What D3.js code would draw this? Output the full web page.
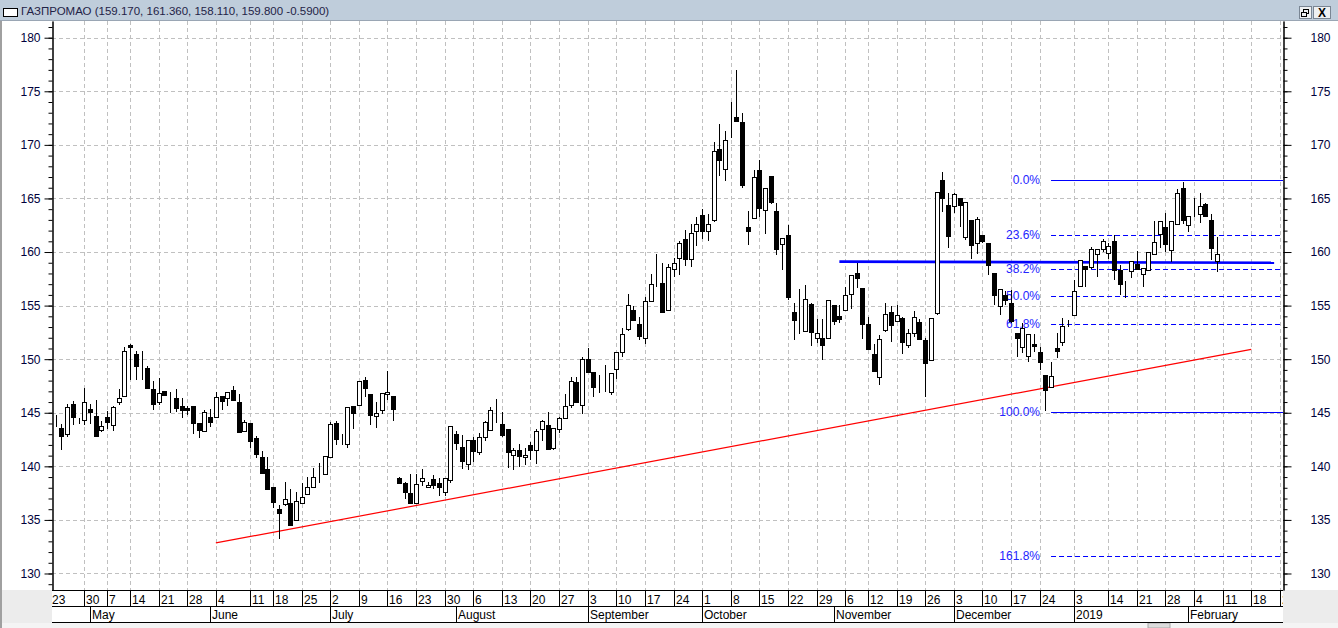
<!DOCTYPE html>
<html>
<head>
<meta charset="utf-8">
<script src="https://cdn.jsdelivr.net/npm/d3@7"></script>
<style>
body{margin:0;background:#ececec;overflow:hidden}
text{font-family:"Liberation Sans",Arial,sans-serif}
</style>
</head>
<body>
<div id="chart"></div>
<script>
var ticker = "ГАЗПРОМАО";
var calendarStart = "2018-04-23", calendarEnd = "2019-02-25", seriesStart = "2018-04-24";
var holidays = ["2018-05-01","2018-05-09","2018-06-12","2018-11-05","2018-12-31","2019-01-01","2019-01-02","2019-01-07"];
var workSaturdays = ["2018-04-28","2018-06-09","2018-12-29"];

var opens = [144.1,143.57,143.0,145.8,144.5,144.32,145.37,144.72,143.39,144.6,143.85,146.0,146.55,151.34,150.5,148.7,149.16,147.2,146.0,147.02,
146.18,146.37,145.62,145.43,145.62,144.04,143.3,144.6,144.57,146.58,146.37,147.11,146.02,143.3,144.04,142.64,140.83,139.72,138.06,136.05,
136.48,136.57,135.0,136.54,137.41,138.06,138.95,139.32,140.83,144.07,142.38,142.13,145.65,145.74,148.06,146.79,144.72,145.28,146.76,146.6,
138.92,138.43,137.5,136.57,138.67,138.06,138.8,138.43,137.59,138.7,142.99,141.8,140.19,142.42,141.3,142.7,143.35,144.72,143.91,143.45,
141.02,141.49,140.84,141.96,141.55,143.51,143.82,141.68,143.51,144.53,145.75,147.86,145.68,150.0,148.85,147.17,147.17,146.96,149.04,150.71,
152.86,154.63,153.32,152.02,155.47,157.52,157.15,154.63,158.45,159.47,161.24,159.35,161.99,163.48,161.99,162.98,169.66,167.76,171.99,172.61,
172.14,162.36,163.2,167.61,163.91,167.11,163.85,160.71,161.55,154.44,154.88,152.64,155.19,152.02,152.02,152.02,155.09,154.07,154.63,156.12,
158.04,156.61,153.32,150.47,148.32,152.76,154.41,153.54,153.82,151.3,152.42,153.48,151.8,149.94,154.29,166.71,164.38,164.32,165.0,161.37,
162.98,160.87,161.55,160.81,158.07,155.0,155.99,155.22,152.42,151.12,150.28,151.4,150.65,148.48,147.45,151.02,151.65,153.7,154.16,156.8,
158.66,158.63,159.78,160.25,159.88,160.99,158.35,157.3,158.26,158.91,157.92,158.32,159.81,161.65,162.36,160.19,162.58,166.02,162.48,163.42,
163.51,164.44,162.95,159.17];
var highs = [144.8,143.94,145.84,146.06,144.55,147.3,145.84,146.2,144.22,145.19,145.6,147.2,151.18,151.4,150.8,150.8,149.38,147.98,148.23,147.05,
146.93,147.24,146.37,145.6,145.62,144.04,145.28,145.34,146.96,146.6,146.93,147.52,146.77,144.29,144.04,142.86,141.45,140.83,138.06,136.36,
138.55,137.87,137.59,138.43,138.98,139.88,140.28,140.99,144.17,144.2,143.0,145.56,145.65,147.96,148.36,146.79,145.96,146.85,148.89,146.6,
139.04,138.58,139.29,139.29,139.78,138.55,139.23,138.92,138.92,143.8,143.3,142.89,142.42,142.76,143.14,144.22,145.5,146.24,145.09,143.45,
141.74,142.08,141.68,142.3,143.48,144.29,145.03,143.6,144.6,146.71,148.35,148.35,150.22,151.06,148.85,148.51,149.5,148.73,150.71,152.95,
156.06,155.0,153.94,155.81,157.95,159.78,158.95,158.91,159.47,160.99,162.02,162.64,163.26,163.98,163.51,170.25,171.99,171.34,174.04,177.02,
172.98,163.85,167.61,168.6,165.99,167.11,164.6,161.34,162.55,155.22,156.58,156.89,155.28,153.73,153.73,155.5,155.09,155.03,156.71,157.89,
158.98,156.61,153.91,151.46,152.27,155.25,155.0,155.06,153.98,152.83,154.53,153.79,151.96,153.82,165.62,167.48,165.47,165.5,165.0,164.63,
162.98,163.23,161.55,160.81,158.07,156.52,156.37,156.46,152.42,153.35,152.33,152.33,151.18,148.48,149.78,152.42,153.82,153.7,157.39,159.22,
158.66,160.43,160.25,161.18,160.81,161.55,158.79,157.3,159.19,160.09,158.54,159.97,162.89,162.86,163.6,162.92,165.84,166.49,163.4,165.03,
165.47,164.6,163.51,161.36];
var lows = [143.7,141.5,142.73,143.82,143.94,143.82,143.97,142.75,143.17,143.5,143.26,145.68,146.5,148.07,148.07,148.07,147.2,145.28,145.68,146.52,
144.97,145.03,144.5,144.8,143.0,142.6,143.3,143.63,144.57,145.28,145.59,146.06,143.17,143.3,141.68,140.75,139.26,137.84,136.11,133.18,
136.27,134.4,135.0,136.54,137.41,138.06,138.43,139.32,140.83,141.98,141.95,141.73,143.52,145.74,146.45,143.89,143.58,144.9,146.2,144.23,
138.43,136.94,136.51,136.57,138.12,138.06,137.87,137.19,137.19,138.49,141.5,139.78,139.66,140.4,141.06,142.33,143.35,144.04,142.76,139.88,
139.66,139.97,140.09,140.59,140.19,142.39,141.58,141.52,143.14,144.53,145.47,146.02,144.84,148.82,146.49,146.89,146.95,146.65,148.17,150.22,
152.64,153.63,151.77,151.43,155.47,156.74,154.42,154.63,157.64,157.89,158.7,158.6,160.56,161.24,160.99,162.76,167.14,166.61,170.62,172.1,
165.99,160.62,163.2,163.26,161.68,164.5,159.69,158.29,155.56,151.83,152.39,152.55,151.24,151.55,149.91,152.02,153.17,153.42,154.57,154.72,
156.68,151.89,150.96,148.85,147.61,152.58,151.65,153.54,150.47,151.09,152.11,151.93,146.43,149.94,154.1,163.76,160.34,163.6,162.33,161.12,
159.32,159.78,160.87,157.86,155.06,154.13,155.06,153.35,150.16,150.62,149.78,150.71,149.0,145.12,147.45,150.09,151.24,152.98,154.16,156.8,
156.71,158.45,157.7,160.0,159.32,157.42,155.96,155.68,157.55,158.42,156.71,158.32,159.81,160.34,160.03,159.1,162.58,162.58,161.89,163.3,
162.67,163.23,159.25,158.11];
var closes = [144.1,142.8,145.53,144.57,144.5,146.02,145.03,142.8,143.76,144.1,145.53,146.37,150.75,151.12,149.32,148.7,147.27,145.8,146.83,146.65,
146.18,145.4,145.25,145.25,144.0,143.35,145.06,144.1,146.46,146.06,146.93,146.15,143.17,144.13,142.33,141.15,139.41,137.84,136.64,135.62,
136.94,134.5,136.76,137.13,138.06,138.98,138.95,140.99,143.98,142.53,142.38,145.56,145.0,147.96,147.31,144.78,145.0,146.85,146.98,145.34,
138.43,137.65,136.57,138.33,138.92,138.24,138.24,138.06,138.92,143.8,142.2,140.47,142.42,141.4,142.7,144.1,145.22,144.72,142.95,141.3,
141.49,140.93,141.02,141.55,143.26,144.19,141.58,143.6,144.47,145.59,147.92,146.02,150.0,148.82,147.42,147.17,147.17,148.73,150.71,152.36,
155.09,153.63,152.17,155.47,157.05,157.52,154.42,158.6,159.01,160.87,159.35,161.8,162.64,161.99,162.64,169.47,168.6,170.47,171.99,172.24,
166.24,161.96,167.02,164.1,165.99,164.66,160.31,161.34,155.81,153.66,154.88,155.65,152.55,152.48,151.37,155.5,153.6,153.76,156.02,157.89,
157.58,153.32,150.99,148.94,151.86,154.19,153.23,154.1,151.65,152.42,153.91,151.93,149.6,153.82,165.62,165.06,161.46,165.43,164.35,164.63,
160.65,163.04,161.06,158.79,155.99,156.52,155.53,153.6,152.02,152.95,152.33,151.21,149.78,147.08,148.45,150.81,153.11,153.7,156.34,159.22,
158.39,160.25,160.25,160.99,160.53,158.35,156.99,157.3,159.19,158.42,158.54,159.97,160.9,162.86,160.75,162.92,165.47,162.95,163.32,163.42,
164.25,163.32,160.39,159.8];

var yTicks = [130,135,140,145,150,155,160,165,170,175,180];
var monthLabels = ["May","June","July","August","September","October","November","December","2019","February"];
var trendLine = [["2018-06-04",132.85],["2019-02-18",150.92]];
var levelLine = [["2018-11-02",159.1],["2019-02-22",159.0]];
var fibStart = "2018-12-26", fibHigh = 166.7, fibLow = 145.05;
var fibLevels = [0,23.6,38.2,50,61.8,100,161.8];

var W = 1338, H = 628;
var plot = {left: 52, right: 1283, top: 21, bottom: 590};

var parse = d3.utcParse("%Y-%m-%d"), fmt = d3.utcFormat("%Y-%m-%d");
var days = d3.utcDay.range(parse(calendarStart), d3.utcDay.offset(parse(calendarEnd), 1)).filter(function(d){
    var s = fmt(d), wd = d.getUTCDay();
    if (workSaturdays.indexOf(s) >= 0) return true;
    return wd > 0 && wd < 6 && holidays.indexOf(s) < 0;
});
var dayIndex = {};
days.forEach(function(d,i){ dayIndex[fmt(d)] = i; });

var x = d3.scaleLinear().domain([0.35, 215.55]).range([plot.left, plot.right]);
var y = d3.scaleLinear().domain([128.46, 181.56]).range([plot.bottom, plot.top]);
var px = function(i){ return Math.round(x(i)) + 0.5; };

var candles = opens.map(function(o,k){
    return {i: dayIndex[seriesStart] + k, o: o, h: highs[k], l: lows[k], c: closes[k]};
});

var svg = d3.select("#chart").append("svg").attr("width", W).attr("height", H)
    .style("display","block");

// window frame
svg.append("rect").attr("width", W).attr("height", H).attr("fill", "#ececec");
svg.append("rect").attr("x", 2).attr("y", 21).attr("width", W - 2).attr("height", plot.bottom - 21).attr("fill", "#fff");
svg.append("rect").attr("x", 0).attr("y", 21).attr("width", 2).attr("height", H - 21).attr("fill", "#a0a0a0");
svg.append("rect").attr("x", plot.left).attr("y", plot.bottom).attr("width", plot.right - plot.left).attr("height", 32).attr("fill", "#fff");
svg.append("rect").attr("x", 2).attr("y", 623).attr("width", W).attr("height", 5).attr("fill", "#f4f4f4");
svg.append("rect").attr("x", 1148).attr("y", 623).attr("width", 22).attr("height", 5).attr("fill", "#dcdcdc").attr("stroke", "#a8a8a8");

// title bar
svg.append("rect").attr("width", W).attr("height", 20).attr("fill", "#bfcddb");
svg.append("line").attr("x1", 0).attr("x2", W).attr("y1", 20.5).attr("y2", 20.5).attr("stroke", "#9aa6b4");
svg.append("rect").attr("x", 3.5).attr("y", 8.5).attr("width", 14).attr("height", 8).attr("fill", "#fff").attr("stroke", "#000");
var last = candles[candles.length - 1], prev = candles[candles.length - 2];
svg.append("text").attr("x", 21).attr("y", 15).attr("font-size", 11.5).attr("fill", "#1f2347")
    .text(ticker + " (" + [last.o, last.h, last.l, last.c].map(function(v){ return v.toFixed(3); }).join(", ")
        + " " + (last.c - prev.c).toFixed(4) + ")");
[[1299, 12], [1313, 17]].forEach(function(b){
    svg.append("rect").attr("x", b[0] + 0.5).attr("y", 6.5).attr("width", b[1]).attr("height", 12)
        .attr("fill", "#eef0f2").attr("stroke", "#7a8694");
});
svg.append("rect").attr("x", 1303.5).attr("y", 9.5).attr("width", 5).attr("height", 4).attr("fill", "none").attr("stroke", "#000");
svg.append("rect").attr("x", 1301.5).attr("y", 12.5).attr("width", 5).attr("height", 4).attr("fill", "#eef0f2").attr("stroke", "#000");
svg.append("text").attr("x", 1322).attr("y", 17).attr("text-anchor", "middle").attr("font-size", 12).attr("font-weight", "bold").text("X");

svg.append("clipPath").attr("id", "plotclip").append("rect")
    .attr("x", plot.left).attr("y", plot.top).attr("width", plot.right - plot.left).attr("height", plot.bottom - plot.top);
svg.append("clipPath").attr("id", "xclip").append("rect")
    .attr("x", plot.left).attr("y", plot.bottom).attr("width", plot.right - plot.left).attr("height", 33);

// week / month ticks
var weekTicks = [], monthTicks = [];
days.forEach(function(d,i){
    if (i == 0 || +d3.utcMonday.floor(d) != +d3.utcMonday.floor(days[i-1])) {
        if (!weekTicks.length || x(i) - x(weekTicks[weekTicks.length-1]) >= 15) weekTicks.push(i);
    }
    if (i > 0 && d.getUTCMonth() != days[i-1].getUTCMonth()) monthTicks.push(i);
});

var g = svg.append("g").attr("clip-path", "url(#plotclip)");
g.selectAll("line.hgrid").data(yTicks).join("line").attr("class", "hgrid")
    .attr("x1", plot.left).attr("x2", plot.right)
    .attr("y1", function(d){ return Math.round(y(d)) + 0.5; }).attr("y2", function(d){ return Math.round(y(d)) + 0.5; });
g.selectAll("line.vgrid").data(weekTicks).join("line").attr("class", "vgrid")
    .attr("x1", px).attr("x2", px).attr("y1", plot.top).attr("y2", plot.bottom);
g.selectAll("line.hgrid, line.vgrid").attr("stroke", "#c0c0c0").attr("stroke-dasharray", "4,3");

// trend line and level line
g.append("line").attr("x1", x(dayIndex[trendLine[0][0]])).attr("y1", y(trendLine[0][1]))
    .attr("x2", x(dayIndex[trendLine[1][0]])).attr("y2", y(trendLine[1][1]))
    .attr("stroke", "#ff0000").attr("stroke-width", 1.2);

// fibonacci
var fibX = x(dayIndex[fibStart]);
var fib = fibLevels.map(function(p){ return {p: p, v: fibHigh - (fibHigh - fibLow) * p / 100}; });
g.selectAll("line.fib").data(fib).join("line").attr("class", "fib")
    .attr("x1", fibX).attr("x2", plot.right)
    .attr("y1", function(d){ return Math.round(y(d.v)) + 0.5; }).attr("y2", function(d){ return Math.round(y(d.v)) + 0.5; })
    .attr("stroke", "#0000ff")
    .attr("stroke-dasharray", function(d){ return (d.p == 0 || d.p == 100) ? null : "5,3"; });
g.selectAll("text.fib").data(fib).join("text").attr("class", "fib")
    .attr("x", fibX - 11).attr("y", function(d){ return y(d.v); })
    .attr("dy", "0.35em").attr("text-anchor", "end").attr("font-size", 12).attr("fill", "#2424ff")
    .text(function(d){ return d.p.toFixed(1) + "%"; });

g.append("line").attr("x1", x(dayIndex[levelLine[0][0]])).attr("y1", y(levelLine[0][1]))
    .attr("x2", x(dayIndex[levelLine[1][0]])).attr("y2", y(levelLine[1][1]))
    .attr("stroke", "#0000ff").attr("stroke-width", 2.6);

// candles
g.selectAll("line.wick").data(candles).join("line").attr("class", "wick")
    .attr("x1", function(d){ return px(d.i); }).attr("x2", function(d){ return px(d.i); })
    .attr("y1", function(d){ return Math.round(y(d.h)); }).attr("y2", function(d){ return Math.round(y(d.l)); })
    .attr("stroke", "#000");
g.selectAll("rect.body").data(candles).join("rect").attr("class", "body")
    .attr("x", function(d){ return px(d.i) - 2; }).attr("width", 4)
    .attr("y", function(d){ return Math.round(y(Math.max(d.o, d.c))) + 0.5; })
    .attr("height", function(d){ return Math.max(0, Math.round(y(Math.min(d.o, d.c))) - Math.round(y(Math.max(d.o, d.c)))); })
    .attr("fill", function(d){ return d.c < d.o ? "#000" : "#fff"; })
    .attr("stroke", "#000");

// y axes
var fontAxis = function(sel){
    sel.attr("font-family", "Liberation Sans, Arial, sans-serif").attr("font-size", 12);
    sel.selectAll("text").attr("fill", "#00003c");
    sel.selectAll("line, path").attr("stroke", "#000");
};
var minor = d3.range(129, 182);
svg.append("g").attr("transform", "translate(" + (plot.left + 0.5) + ",0)")
    .call(d3.axisLeft(y).tickValues(minor).tickSize(4).tickSizeOuter(0).tickFormat("")).call(fontAxis);
svg.append("g").attr("transform", "translate(" + (plot.left + 0.5) + ",0)")
    .call(d3.axisLeft(y).tickValues(yTicks).tickSize(8).tickPadding(4).tickSizeOuter(0)).call(fontAxis);
svg.append("g").attr("transform", "translate(" + (plot.right + 0.5) + ",0)")
    .call(d3.axisRight(y).tickValues(minor).tickSize(4).tickSizeOuter(0).tickFormat("")).call(fontAxis);
svg.append("g").attr("transform", "translate(" + (plot.right + 0.5) + ",0)")
    .call(d3.axisRight(y).tickValues(yTicks).tickSize(8).tickPadding(19).tickSizeOuter(0)).call(fontAxis);

// date axis
var xa = svg.append("g").attr("clip-path", "url(#xclip)");
[plot.bottom + 0.5, 606.5, 622.5].forEach(function(yy){
    xa.append("line").attr("x1", plot.left).attr("x2", plot.right).attr("y1", yy).attr("y2", yy).attr("stroke", "#000");
});
xa.selectAll("line.wk").data(weekTicks).join("line").attr("class", "wk")
    .attr("x1", px).attr("x2", px).attr("y1", plot.bottom).attr("y2", 606.5).attr("stroke", "#000");
xa.selectAll("text.wk").data(weekTicks).join("text").attr("class", "wk")
    .attr("x", function(i){ return Math.round(x(i)) + 2; }).attr("y", 603.5).attr("font-size", 12)
    .text(function(i){ return days[i].getUTCDate(); });
xa.selectAll("line.mo").data(monthTicks).join("line").attr("class", "mo")
    .attr("x1", px).attr("x2", px).attr("y1", 606.5).attr("y2", 622.5).attr("stroke", "#000");
xa.selectAll("text.mo").data(monthTicks).join("text").attr("class", "mo")
    .attr("x", function(i){ return Math.round(x(i)) + 2; }).attr("y", 619).attr("font-size", 12)
    .text(function(i,k){ return monthLabels[k]; });
</script>
</body>
</html>
